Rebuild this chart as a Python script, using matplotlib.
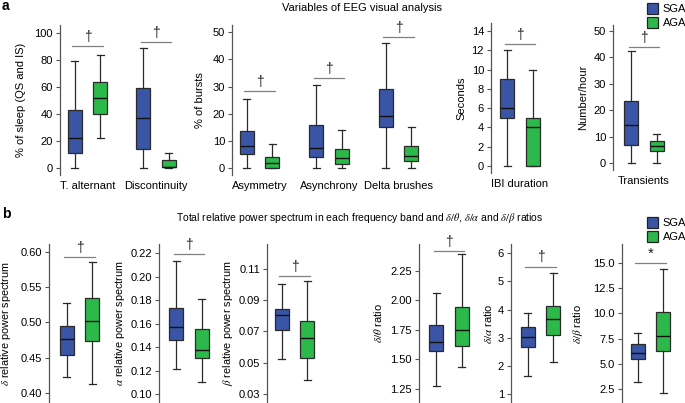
import matplotlib
matplotlib.use("Agg")
import matplotlib.pyplot as plt
from matplotlib.patches import Patch
import numpy as np

plt.rcParams['font.family'] = ['Liberation Sans', 'DejaVu Sans']
plt.rcParams['mathtext.fontset'] = 'stix'

# ---------------- data (five-number summaries: whislo, q1, median, q3, whishi) -------------
groups = ["SGA", "AGA"]
colors = ["#3a55a6", "#2db84b"]

# panel a
a1_cats = ["T. alternant", "Discontinuity"]
a1_sga = [[0, 11, 22, 43, 79], [0, 14, 37, 59.5, 88.5]]
a1_aga = [[22, 40, 51.5, 64, 84], [0, 0.5, 1, 6, 11]]
a1_sig = [90, 93.5]

a2_cats = ["Asymmetry", "Asynchrony", "Delta brushes"]
a2_sga = [[0, 5, 8, 13.5, 25.5], [0, 4, 7.5, 16, 30.5], [0, 15, 19, 29, 46]]
a2_aga = [[0, 0, 2, 4, 9], [0, 1.5, 3.5, 7, 14], [0, 2.5, 4.5, 8, 15]]
a2_sig = [28.5, 33.3, 48.2]

a3_cats = ["IBI duration"]
a3_sga = [[0, 5, 6, 9, 12]]
a3_aga = [[0, 0, 4, 5, 10]]
a3_sig = [12.6]

a4_cats = ["Transients"]
a4_sga = [[0, 7, 14.5, 23.5, 42.5]]
a4_aga = [[0, 4.5, 6.5, 8.5, 11]]
a4_sig = [44]

# panel b
b1_sga = [[0.422, 0.454, 0.477, 0.495, 0.527]]
b1_aga = [[0.413, 0.474, 0.502, 0.535, 0.586]]
b1_sig = [0.5925]

b2_sga = [[0.121, 0.146, 0.157, 0.173, 0.213]]
b2_aga = [[0.1105, 0.131, 0.1374, 0.155, 0.1806]]
b2_sig = [0.219]

b3_sga = [[0.0523, 0.0711, 0.0804, 0.0847, 0.1002]]
b3_aga = [[0.0391, 0.053, 0.0655, 0.0768, 0.1023]]
b3_sig = [0.1055]

b4_sga = [[1.276, 1.571, 1.648, 1.79, 2.062]]
b4_aga = [[1.43, 1.616, 1.75, 1.943, 2.39]]
b4_sig = [2.422]

b5_sga = [[1.65, 2.66, 3.04, 3.37, 3.89]]
b5_aga = [[2.13, 3.10, 3.66, 4.11, 5.31]]
b5_sig = [5.53]

b6_sga = [[3.23, 5.48, 6.07, 7.0, 8.06]]
b6_aga = [[2.1, 6.3, 7.72, 10.17, 14.44]]
b6_sig = [14.97]

# ---------------- figure ----------------
W, H = 685, 403
fig = plt.figure(figsize=(W / 100, H / 100), dpi=100)
FS = 8


def make_axes(L, R, top, bottom, p0, sp):
    ax = fig.add_axes([L / W, 1 - bottom / H, (R - L) / W, (bottom - top) / H])
    ax.set_xlim((L - p0) / sp, (R - p0) / sp)
    for s in ["top", "right", "bottom"]:
        ax.spines[s].set_visible(False)
    ax.spines["left"].set_color("#555555")
    ax.spines["left"].set_linewidth(0.9)
    ax.tick_params(axis="y", direction="out", length=3, width=0.8, color="#555555",
                   labelsize=FS, pad=2)
    ax.tick_params(axis="x", length=0, labelsize=FS, pad=4)
    ax.patch.set_alpha(0)
    return ax


def draw(ax, cats, sga, aga, sig, sp, sym="\u2020", ylim=None, yticks=None,
         ylabel=None, label_px=None, L=None, R=None, fmt=None, lfs=FS):
    off = 12.8 / sp
    wid = 14.0 / sp
    stats = []
    pos = []
    cols = []
    for i in range(len(sga)):
        for j, data in enumerate([sga[i], aga[i]]):
            lo, q1, med, q3, hi = data
            stats.append(dict(whislo=lo, q1=q1, med=med, q3=q3, whishi=hi, fliers=[]))
            pos.append(i + (-off if j == 0 else off))
            cols.append(colors[j])
    bp = ax.bxp(stats, positions=pos, widths=wid, patch_artist=True, showfliers=False,
                boxprops=dict(linewidth=0.9, edgecolor="#2a2a2a"),
                medianprops=dict(color="#111111", linewidth=1.0),
                whiskerprops=dict(color="#2a2a2a", linewidth=0.9),
                capprops=dict(color="#2a2a2a", linewidth=0.9),
                capwidths=wid * 0.5, manage_ticks=False)
    for patch, c in zip(bp["boxes"], cols):
        patch.set_facecolor(c)
    n = len(sga)
    if cats:
        ax.set_xticks(range(n))
        ax.set_xticklabels(cats)
    else:
        ax.set_xticks([])
    ax.set_ylim(*ylim)
    if yticks is not None:
        ax.set_yticks(yticks)
        if fmt:
            ax.set_yticklabels([fmt.format(t) for t in yticks])
    for i in range(n):
        x0 = i - off - 0.1 * 26 / sp
        x1 = i + off + 0.1 * 26 / sp
        ax.plot([x0, x1], [sig[i], sig[i]], color="#808080", lw=0.9, clip_on=False)
        ax.annotate(sym, xy=((x0 + x1) / 2, sig[i]), xytext=(0, 1.5),
                    textcoords="offset points", ha="center", va="bottom",
                    fontsize=10 if sym != "*" else 11, color="#222222",
                    annotation_clip=False)
    if ylabel:
        ax.set_ylabel(ylabel, fontsize=lfs)
        # label anchor is the right edge of the rotated text; shift by half its height
        ax.yaxis.set_label_coords((label_px + 5 - L) / (R - L), 0.5)


# panel a axes
SP = 69.0
ax = make_axes(60, 190, 25, 175, 87.5, 68.5)
draw(ax, a1_cats, a1_sga, a1_aga, a1_sig, 68.5, ylim=(-5.2, 105.9),
     yticks=[0, 20, 40, 60, 80, 100], ylabel="% of sleep (QS and IS)", label_px=21, L=60, R=190)

ax = make_axes(232, 432, 25, 175, 259.5, 69.5)
draw(ax, a2_cats, a2_sga, a2_aga, a2_sig, 69.5, ylim=(-2.6, 52.7),
     yticks=[0, 10, 20, 30, 40, 50], ylabel="% of bursts", label_px=200, L=232, R=432)

ax = make_axes(491, 555, 23, 173, 520, SP)
draw(ax, a3_cats, a3_sga, a3_aga, a3_sig, SP, ylim=(-0.73, 14.83),
     yticks=[0, 2, 4, 6, 8, 10, 12, 14], ylabel="Seconds", label_px=461, L=491, R=555)

ax = make_axes(613, 680, 25, 170, 644, SP)
draw(ax, a4_cats, a4_sga, a4_aga, a4_sig, SP, ylim=(-2.65, 52.3),
     yticks=[0, 10, 20, 30, 40, 50], ylabel="Number/hour", label_px=583, L=613, R=680)

# panel b axes
ax = make_axes(49, 120, 244, 403, 79.5, SP)
draw(ax, None, b1_sga, b1_aga, b1_sig, SP, ylim=(0.3858, 0.6113),
     yticks=[0.40, 0.45, 0.50, 0.55, 0.60], fmt="{:.2f}",
     ylabel=r"$\delta$ relative power spectrum", label_px=8, L=49, R=120, lfs=7.8)

ax = make_axes(159, 230, 244, 403, 189, SP)
draw(ax, None, b2_sga, b2_aga, b2_sig, SP, ylim=(0.0923, 0.2279),
     yticks=[0.10, 0.12, 0.14, 0.16, 0.18, 0.20, 0.22], fmt="{:.2f}",
     ylabel=r"$\alpha$ relative power spectrum", label_px=122, L=159, R=230, lfs=7.8)

ax = make_axes(267, 335, 244, 403, 294.5, SP)
draw(ax, None, b3_sga, b3_aga, b3_sig, SP, ylim=(0.0242, 0.126),
     yticks=[0.03, 0.05, 0.07, 0.09, 0.11], fmt="{:.2f}",
     ylabel=r"$\beta$ relative power spectrum", label_px=230, L=267, R=335, lfs=7.8)

ax = make_axes(419, 485, 244, 403, 449, SP)
draw(ax, None, b4_sga, b4_aga, b4_sig, SP, ylim=(1.128, 2.479),
     yticks=[1.25, 1.50, 1.75, 2.00, 2.25], fmt="{:.2f}",
     ylabel=r"$\delta/\theta$ ratio", label_px=379, L=419, R=485)

ax = make_axes(511, 580, 244, 403, 540.5, SP)
draw(ax, None, b5_sga, b5_aga, b5_sig, SP, ylim=(0.68, 6.33),
     yticks=[1, 2, 3, 4, 5, 6], fmt="{:.0f}",
     ylabel=r"$\delta/\alpha$ ratio", label_px=489, L=511, R=580)

ax = make_axes(622, 685, 244, 403, 650.5, SP)
draw(ax, None, b6_sga, b6_aga, b6_sig, SP, sym="*", ylim=(1.11, 16.88),
     yticks=[2.5, 5.0, 7.5, 10.0, 12.5, 15.0], fmt="{:.1f}",
     ylabel=r"$\delta/\beta$ ratio", label_px=580, L=622, R=685)

# titles and panel letters
fig.text(362 / W, 1 - 8 / H, "Variables of EEG visual analysis", ha="center", va="center", fontsize=FS)
fig.text(360 / W, 1 - 218 / H,
         r"Total relative power spectrum in each frequency band and $\delta/\theta$, $\delta/\alpha$ and $\delta/\beta$ ratios",
         ha="center", va="center", fontsize=7.5)
fig.text(2 / W, 1 - 6 / H, "a", ha="left", va="center", fontsize=10, fontweight="bold")
fig.text(2 / W, 1 - 214 / H, "b", ha="left", va="center", fontsize=10, fontweight="bold")

handles = [Patch(facecolor=c, edgecolor="#222222", linewidth=0.9, label=g) for c, g in zip(colors, groups)]
for ytop in [1, 215]:
    fig.legend(handles=handles, loc="upper left", bbox_to_anchor=(645 / W, 1 - ytop / H),
               frameon=False, fontsize=FS, handlelength=1.0, handleheight=1.1,
               handletextpad=0.4, labelspacing=0.25, borderpad=0.2, borderaxespad=0)

fig.savefig("out.png", dpi=100)
